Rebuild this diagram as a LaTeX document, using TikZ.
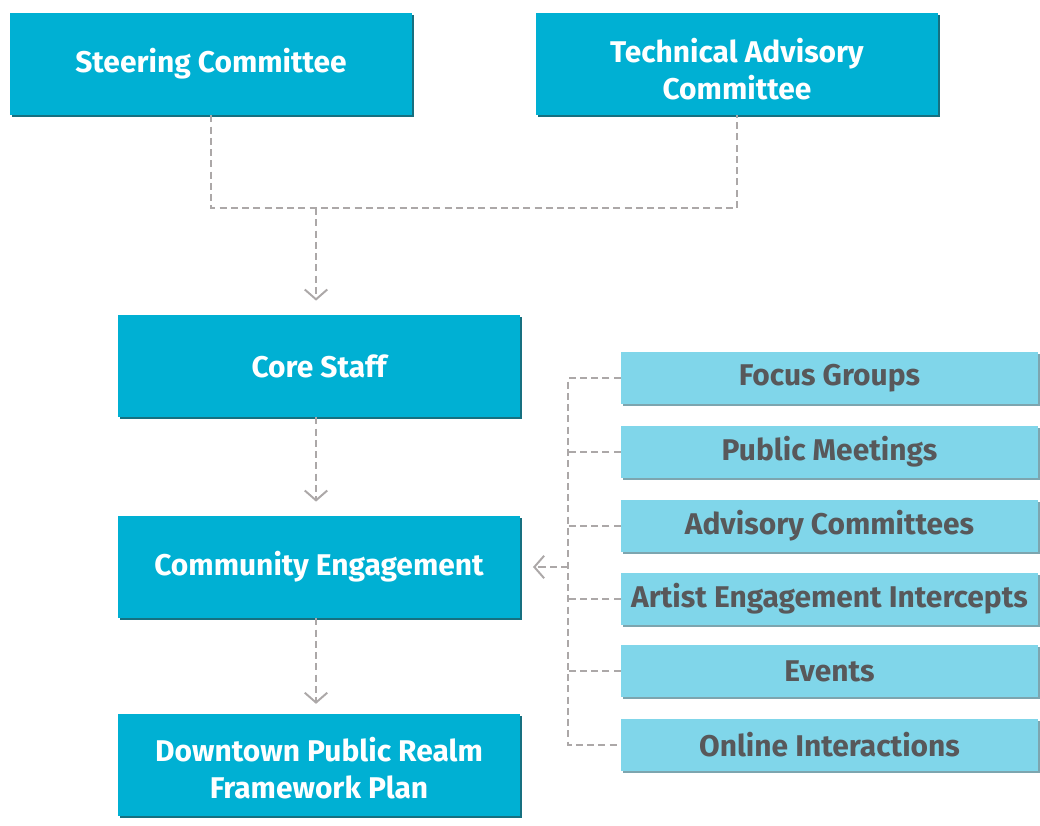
\documentclass[tikz,border=0pt]{standalone}
\usepackage{fontspec}
\setmainfont{Fira Sans}
\usetikzlibrary{arrows.meta,shadows}
\definecolor{corefill}{RGB}{0,176,211}
\definecolor{coreshade}{RGB}{22,112,128}
\definecolor{sidefill}{RGB}{128,214,234}
\definecolor{sideshade}{RGB}{125,165,175}
\definecolor{sidetext}{RGB}{88,88,90}
\definecolor{linkgray}{RGB}{172,168,168}
\tikzset{
  mainbox/.style={fill=corefill, text=white, font=\bfseries\fontsize{21.3}{26.2}\selectfont,
    minimum width=10.05cm, minimum height=2.55cm, inner sep=0pt, align=center,
    drop shadow={shadow xshift=0.05cm, shadow yshift=-0.06cm, fill=coreshade, opacity=1}},
  sidebox/.style={fill=sidefill, text=sidetext, font=\bfseries\fontsize{21.3}{26.2}\selectfont,
    minimum width=10.425cm, minimum height=1.3cm, inner sep=0pt,
    drop shadow={shadow xshift=0.04cm, shadow yshift=-0.05cm, fill=sideshade, opacity=1}},
  link/.style={linkgray, line width=1.4pt, dash pattern=on 5pt off 3pt},
  linkarrow/.style={link, -{Straight Barb[length=7pt, width=16pt, line width=1.4pt]}}
}
\begin{document}
\begin{tikzpicture}[x=0.025cm,y=-0.025cm]
\useasboundingbox (0,0) rectangle (1040,825);
% committees
\node[mainbox] (steer) at (211,64) {Steering Committee};
\node[mainbox] (tac) at (737,64) {\rule{0pt}{1.15em}Technical Advisory\\Committee};
% main column
\node[mainbox] (core) at (319,366) {Core Staff};
\node[mainbox] (engage) at (319,567) {Community Engagement};
\node[mainbox] (plan) at (319,765) {\rule{0pt}{1em}Downtown Public Realm\\Framework Plan};
% engagement methods
\node[sidebox] (focus) at (829.5,378) {Focus Groups};
\node[sidebox] (meet) at (829.5,452) {Public Meetings};
\node[sidebox] (advis) at (829.5,526) {Advisory Committees};
\node[sidebox] (artist) at (829.5,599) {Artist Engagement Intercepts};
\node[sidebox] (events) at (829.5,671) {Events};
\node[sidebox] (online) at (829.5,745) {Online Interactions};
% connectors
\coordinate (join) at (316,208);
\coordinate (spine) at (568,567);
\draw[link] (steer.south) |- (join) -| (tac.south);
\draw[linkarrow, shorten >=10pt] (join) -- (core.north -| join);
\draw[linkarrow, shorten >=10pt] (core.south -| join) -- (engage.north -| join);
\draw[linkarrow, shorten >=7pt] (engage.south -| join) -- (plan.north -| join);
\draw[link] (focus.west) -| (spine) |- (online.west);
\foreach \m in {meet,advis,artist,events}
  \draw[link] (\m.west) -- (\m.west -| spine);
\draw[linkarrow, shorten >=9pt] (spine) -- (engage.east);
\end{tikzpicture}
\end{document}
